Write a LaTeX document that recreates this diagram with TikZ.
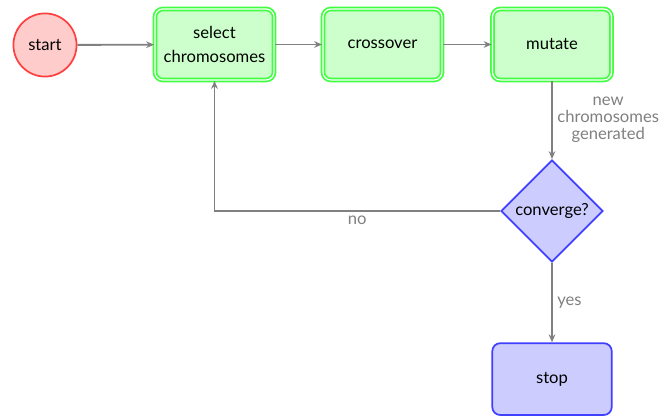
\documentclass[tikz,border=0pt]{standalone}
\usepackage{fontspec}
\setmainfont{Lato}
\usetikzlibrary{shapes.geometric,arrows.meta}

\tikzset{
  startstop/.style={circle, draw=red!75, fill=red!20, line width=1.3pt, minimum size=1.67cm, inner sep=0pt},
  process/.style={rectangle, rounded corners=6pt, draw=green!75, fill=green!20, line width=1.3pt,
    double=white, double distance=0.9pt, minimum width=3.15cm, minimum height=1.88cm, align=center,
    font=\fontsize{12.5}{18.75}\selectfont},
  decision/.style={diamond, aspect=1, draw=blue!75, fill=blue!20, line width=1.3pt, minimum size=2.7cm, inner sep=0pt},
  final/.style={rectangle, rounded corners=6pt, draw=blue!75, fill=blue!20, line width=1.3pt,
    minimum width=3.16cm, minimum height=1.9cm},
  flow/.style={draw=gray, line width=1.4pt, -{Stealth[length=6pt,width=5pt]}},
  lbl/.style={text=gray, align=center, font=\fontsize{12.5}{12.75}\selectfont}
}

\begin{document}
\begin{tikzpicture}[font=\fontsize{12.5}{15}\selectfont]
    % fix the page size
    \useasboundingbox (0,0) rectangle (17.515,-11.033);

    % nodes of the flow chart
    \node[startstop] (start) at (1.19,-1.19) {start};
    \node[process] (select) at (5.675,-1.177) {select\\chromosomes};
    \node[process] (cross) at (10.12,-1.177) {crossover};
    \node[process] (mutate) at (14.605,-1.177) {mutate};
    \node[decision] (conv) at (14.605,-5.583) {converge?};
    \node[final] (stop) at (14.605,-10.03) {stop};

    % connectors
    \draw[flow] (start) -- (select);
    \draw[flow] (select) -- (cross);
    \draw[flow] (cross) -- (mutate);
    \draw[flow] (mutate) -- node[right, lbl] {new\\chromosomes\\generated} (conv);
    \draw[flow] (conv) -| node[below, lbl, pos=0.25] {no} (select);
    \draw[flow] (conv) -- node[right, lbl] {yes} (stop);
\end{tikzpicture}
\end{document}
